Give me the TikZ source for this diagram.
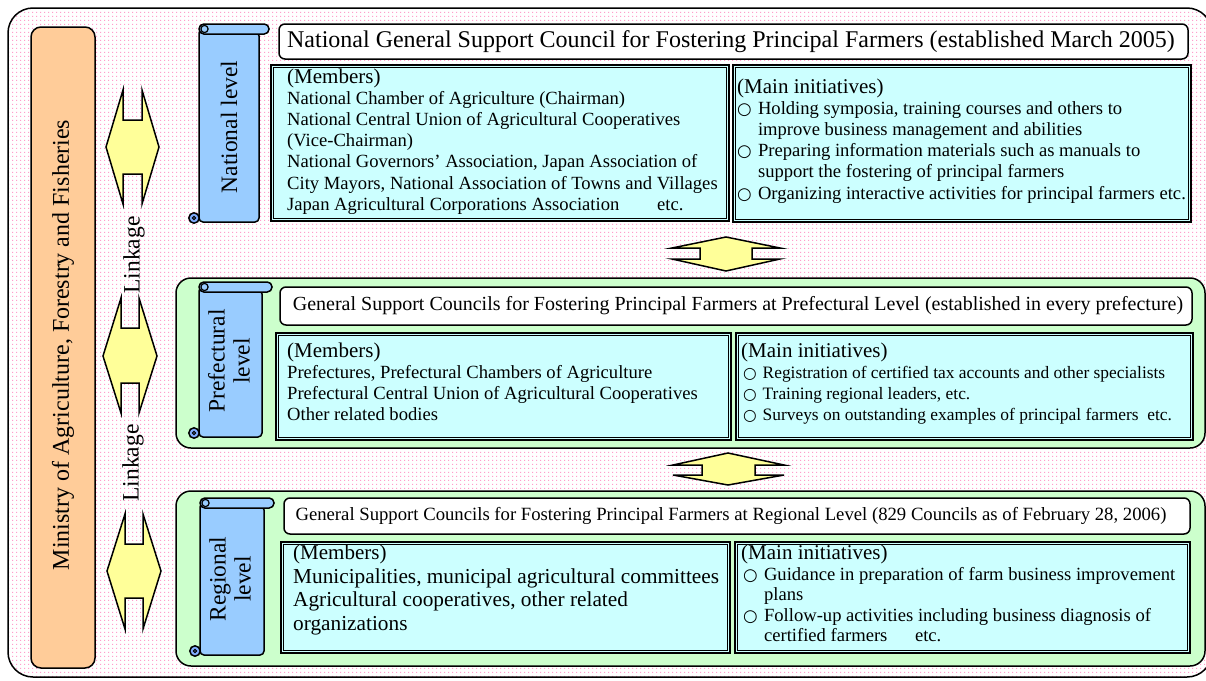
\documentclass[tikz,border=0pt]{standalone}
\usepackage{fontspec}
\usepackage{graphicx}
\setmainfont{Liberation Serif}
\newfontfamily\symbolfont{DejaVu Sans}
\usetikzlibrary{patterns}
\definecolor{dotpink}{HTML}{FF9FCC}
\pgfdeclarepatterninherentlycolored{pinkdots}{\pgfqpoint{0pt}{0pt}}{\pgfqpoint{4pt}{4pt}}{\pgfqpoint{4pt}{4pt}}{\pgfsetfillcolor{dotpink}\pgfpathrectangle{\pgfqpoint{0pt}{0pt}}{\pgfqpoint{1.5pt}{1.5pt}}\pgfusepath{fill}}
\definecolor{orangefill}{HTML}{FFCC99}
\definecolor{yellowfill}{HTML}{FFFF99}
\definecolor{scrollblue}{HTML}{99CCFF}
\definecolor{greenfill}{HTML}{CCFFCC}
\definecolor{cyanfill}{HTML}{CCFFFF}
\newcommand\bulmark{\makebox[1.12em][l]{\scalebox{0.9}{\symbolfont ○}}}
\newcommand\indentmark{\hspace*{1.12em}}
\newcommand\textlines[6]{%
  \foreach \t [count=\i from 0] in {#6} {%
    \node[anchor=base west, inner sep=0pt, font=\fontsize{#5}{#5}\selectfont] (#1-\i) at (#2, #3+\i*#4) {\t};}}
\newcommand\cyanbox[4]{%
  \draw[fill=cyanfill, line width=1.8pt] (#1,#2) rectangle (#3,#4);
  \draw[line width=0.6pt] (#1+2.6,#2+2.6) rectangle (#3-2.6,#4-2.6);}
\newcommand\scrollshape[4]{%
  \begin{scope}[shift={(#1,#2)}]
    \draw[fill=scrollblue, line width=1.5pt, rounded corners=4pt] (0,5) -- (0,#4) -- (#3,#4) -- (#3,8) -- cycle;
    \draw[fill=scrollblue, line width=1.5pt, rounded corners=4.8pt] (0,0) rectangle (#3+10,10);
    \draw[line width=1.2pt] (5.5,5) circle (3.6);
    \draw[fill=scrollblue!85!blue, line width=1.5pt] (-5,#4-4) circle (5.2);
    \draw[line width=1pt] (-5,#4-4) circle (1.6);
  \end{scope}}
\tikzset{
  titlebox/.style={draw, fill=white, line width=1.5pt, rounded corners=6pt},
  greenbox/.style={draw, fill=greenfill, line width=1.5pt, rounded corners=15pt},
  blockarrow/.style={draw, fill=yellowfill, line width=1.5pt, line join=miter},
  vlabel/.style={rotate=90, inner sep=0pt, align=center, font=\fontsize{23.5}{25}\selectfont},
  headfont/.style={font=\fontsize{21}{21}\selectfont, anchor=base west, inner sep=0pt},
}
\begin{document}
\begin{tikzpicture}[x=1pt,y=-1pt]
\useasboundingbox (0,0) rectangle (1206,680);
\clip (0,0) rectangle (1206,680);
\fill[white] (0,0) rectangle (1206,680);
% outer frame
\path[fill=white, rounded corners=25pt] (8,8) rectangle (1212,677);
\draw[pattern=pinkdots, line width=1.5pt, rounded corners=25pt] (8,8) rectangle (1212,677);
% ministry
\draw[fill=orangefill, line width=1.5pt, rounded corners=10pt] (31,27) rectangle (95,668);
\node[rotate=90, inner sep=0pt, font=\fontsize{24}{24}\selectfont] (ministry) at (63,345) {Ministry of Agriculture, Forestry and Fisheries};
% linkage arrows
\draw[blockarrow] (106,147) -- (123,90) -- (123,120) -- (142,120) -- (142,90) -- (159,147) -- (142,204) -- (142,174) -- (123,174) -- (123,204) -- cycle;
\draw[blockarrow] (103,356) -- (121,298) -- (121,328) -- (139,328) -- (139,298) -- (157,356) -- (139,413) -- (139,383) -- (121,383) -- (121,413) -- cycle;
\draw[blockarrow] (107,571) -- (125,514) -- (125,544) -- (143,544) -- (143,514) -- (161,571) -- (143,629) -- (143,598) -- (125,598) -- (125,629) -- cycle;
\node[vlabel] (link1) at (134,255) {Linkage};
\node[vlabel] (link2) at (133,463) {Linkage};
% level arrows
\draw[blockarrow] (726,237) -- (780,248) -- (752,248) -- (752,259) -- (780,259) -- (726,271) -- (672,259) -- (700,259) -- (700,248) -- (672,248) -- cycle;
\draw[blockarrow] (728,453) -- (784,465) -- (755,465) -- (755,475) -- (784,475) -- (728,485) -- (673,475) -- (702,475) -- (702,465) -- (673,465) -- cycle;
% green panels
\draw[greenbox] (176,278) rectangle (1205,448);
\draw[greenbox] (176,491) rectangle (1205,666);
% scrolls
\scrollshape{199}{24}{60}{198}
\scrollshape{199}{282}{63}{155}
\scrollshape{200}{498}{64}{157}
\node[vlabel] (natlevel) at (229,127) {National level};
\node[vlabel] (preflevel) at (229,361) {Prefectural\\level};
\node[vlabel] (reglevel) at (230,579) {Regional\\level};
% title boxes
\draw[titlebox] (279,24) rectangle (1188,59);
\draw[titlebox] (280,287) rectangle (1192,325);
\draw[titlebox] (284,498) rectangle (1190,534);
\node[inner sep=0pt, font=\fontsize{24}{24}\selectfont] (nattitle) at (731,42) {National General Support Council for Fostering Principal Farmers (established March 2005)};
\node[inner sep=0pt, font=\fontsize{20}{20}\selectfont] (preftitle) at (738,306) {General Support Councils for Fostering Principal Farmers at Prefectural Level (established in every prefecture)};
\node[inner sep=0pt, font=\fontsize{18.7}{18.7}\selectfont] (regtitle) at (731,516) {General Support Councils for Fostering Principal Farmers at Regional Level (829 Councils as of February 28, 2006)};
% cyan boxes
\cyanbox{271}{65}{729}{221}
\cyanbox{733}{65}{1191}{222}
\cyanbox{276}{333}{731}{440}
\cyanbox{736}{333}{1193}{440}
\cyanbox{281}{542}{730}{653}
\cyanbox{735}{542}{1190}{653}
% national texts
\node[headfont] (natmemhead) at (287,83) {(Members)};
\textlines{natmem}{287}{104}{21.3}{18.6}{{National Chamber of Agriculture (Chairman)},{National Central Union of Agricultural Cooperatives},{(Vice-Chairman)},{National Governors’ Association, Japan Association of},{City Mayors, National Association of Towns and Villages},{\makebox[370pt][l]{Japan Agricultural Corporations Association}etc.}}
\node[headfont] (natinihead) at (737,93) {(Main initiatives)};
\textlines{natini}{737}{114}{21.3}{18.6}{{\bulmark Holding symposia, training courses and others to},{\indentmark improve business management and abilities},{\bulmark Preparing information materials such as manuals to},{\indentmark support the fostering of principal farmers},{\bulmark Organizing interactive activities for principal farmers etc.}}
% prefectural texts
\node[headfont] (prefmemhead) at (287,357) {(Members)};
\textlines{prefmem}{287}{378}{21}{18.6}{{Prefectures, Prefectural Chambers of Agriculture},{Prefectural Central Union of Agricultural Cooperatives},{Other related bodies}}
\node[headfont] (prefinihead) at (741,357) {(Main initiatives)};
\textlines{prefini}{743}{378}{21}{17.4}{{\bulmark Registration of certified tax accounts and other specialists},{\bulmark Training regional leaders, etc.},{\bulmark Surveys on outstanding examples of principal farmers\ \ etc.}}
% regional texts
\node[headfont] (regmemhead) at (293,559) {(Members)};
\textlines{regmem}{293}{583}{23.5}{21.3}{{Municipalities, municipal agricultural committees},{Agricultural cooperatives, other related},{organizations}}
\node[headfont] (reginihead) at (741,559) {(Main initiatives)};
\textlines{regini}{743}{580}{20.5}{18.6}{{\bulmark Guidance in preparation of farm business improvement},{\indentmark plans},{\bulmark Follow-up activities including business diagnosis of},{\indentmark\makebox[151pt][l]{certified farmers}etc.}}
\end{tikzpicture}
\end{document}
